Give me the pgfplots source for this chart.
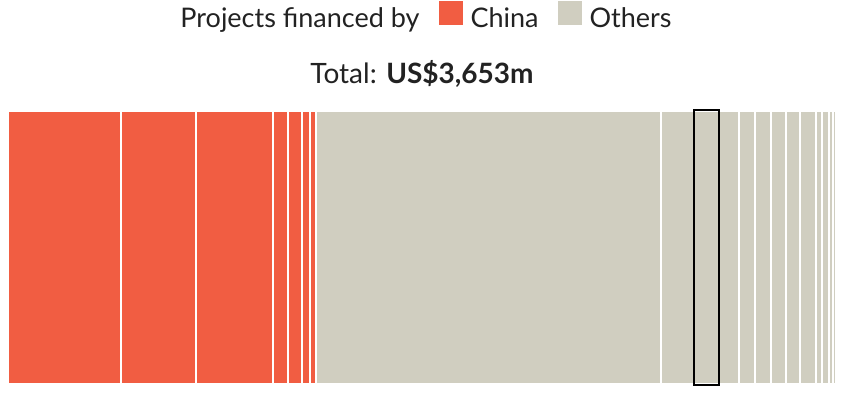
\documentclass[border=0pt]{standalone}
\usepackage{fontspec}
\setmainfont{Lato}
\usepackage{pgfplots}
\pgfplotsset{compat=1.18}
\definecolor{chinared}{RGB}{241,93,66}
\definecolor{othgrey}{RGB}{208,206,192}
\definecolor{txt}{RGB}{34,34,34}

\begin{document}
\begin{tikzpicture}
\useasboundingbox (-8pt,-10pt) rectangle (836pt,384pt);
\begin{axis}[
  scale only axis, width=828pt, height=273pt,
  hide axis, xbar stacked, bar width=273pt,
  xmin=0, xmax=3653, ymin=-0.5, ymax=0.5,
  enlargelimits=false,
  legend columns=-1,
  legend style={at={(0.5,1.352)}, anchor=center, draw=none, fill=none,
     font=\fontsize{27}{32}\selectfont, text=txt,
     nodes={inner sep=0pt},
     /tikz/every odd column/.append style={column sep=8pt},
     /tikz/every even column/.append style={column sep=19pt}},
  every axis plot/.append style={draw=white, line width=2pt},
]
\addlegendimage{empty legend}
\addlegendentry{Projects financed by}
\addlegendimage{legend image code/.code={\fill[chinared] (0pt,-6.5pt) rectangle (22pt,15.5pt);}}
\addlegendentry{China}
\addlegendimage{legend image code/.code={\fill[othgrey] (0pt,-6.5pt) rectangle (22pt,15.5pt);}}
\addlegendentry{Others}
% China
\addplot[fill=chinared, forget plot] coordinates {(497,0)};
\addplot[fill=chinared, forget plot] coordinates {(332,0)};
\addplot[fill=chinared, forget plot] coordinates {(338,0)};
\addplot[fill=chinared, forget plot] coordinates {(70,0)};
\addplot[fill=chinared, forget plot] coordinates {(62,0)};
\addplot[fill=chinared, forget plot] coordinates {(35,0)};
\addplot[fill=chinared, forget plot] coordinates {(26,0)};
% Others
\addplot[fill=othgrey, forget plot] coordinates {(1520,0)};
\addplot[fill=othgrey, forget plot] coordinates {(146,0)};
\addplot[fill=othgrey, forget plot] coordinates {(112,0)};
\addplot[fill=othgrey, forget plot] coordinates {(88,0)};
\addplot[fill=othgrey, forget plot] coordinates {(71,0)};
\addplot[fill=othgrey, forget plot] coordinates {(68,0)};
\addplot[fill=othgrey, forget plot] coordinates {(66,0)};
\addplot[fill=othgrey, forget plot] coordinates {(62,0)};
\addplot[fill=othgrey, forget plot] coordinates {(71,0)};
\addplot[fill=othgrey, forget plot] coordinates {(29,0)};
\addplot[fill=othgrey, forget plot] coordinates {(28,0)};
\addplot[fill=othgrey, forget plot] coordinates {(19,0)};
\addplot[fill=othgrey, forget plot] coordinates {(13,0)};
\end{axis}
\begin{axis}[
  scale only axis, width=828pt, height=273pt,
  hide axis, xbar stacked, bar width=275pt, clip=false,
  xmin=0, xmax=3653, ymin=-0.5, ymax=0.5,
  enlargelimits=false,
]
\addplot[draw=none, fill=none] coordinates {(3026,0)};
\addplot[draw=black, fill=none, line width=2pt] coordinates {(112,0)};
\end{axis}
\node[anchor=base, font=\fontsize{28}{33}\selectfont, text=txt] at (414pt,300pt) {Total: \textbf{US\$3,653m}};
\end{tikzpicture}
\end{document}
